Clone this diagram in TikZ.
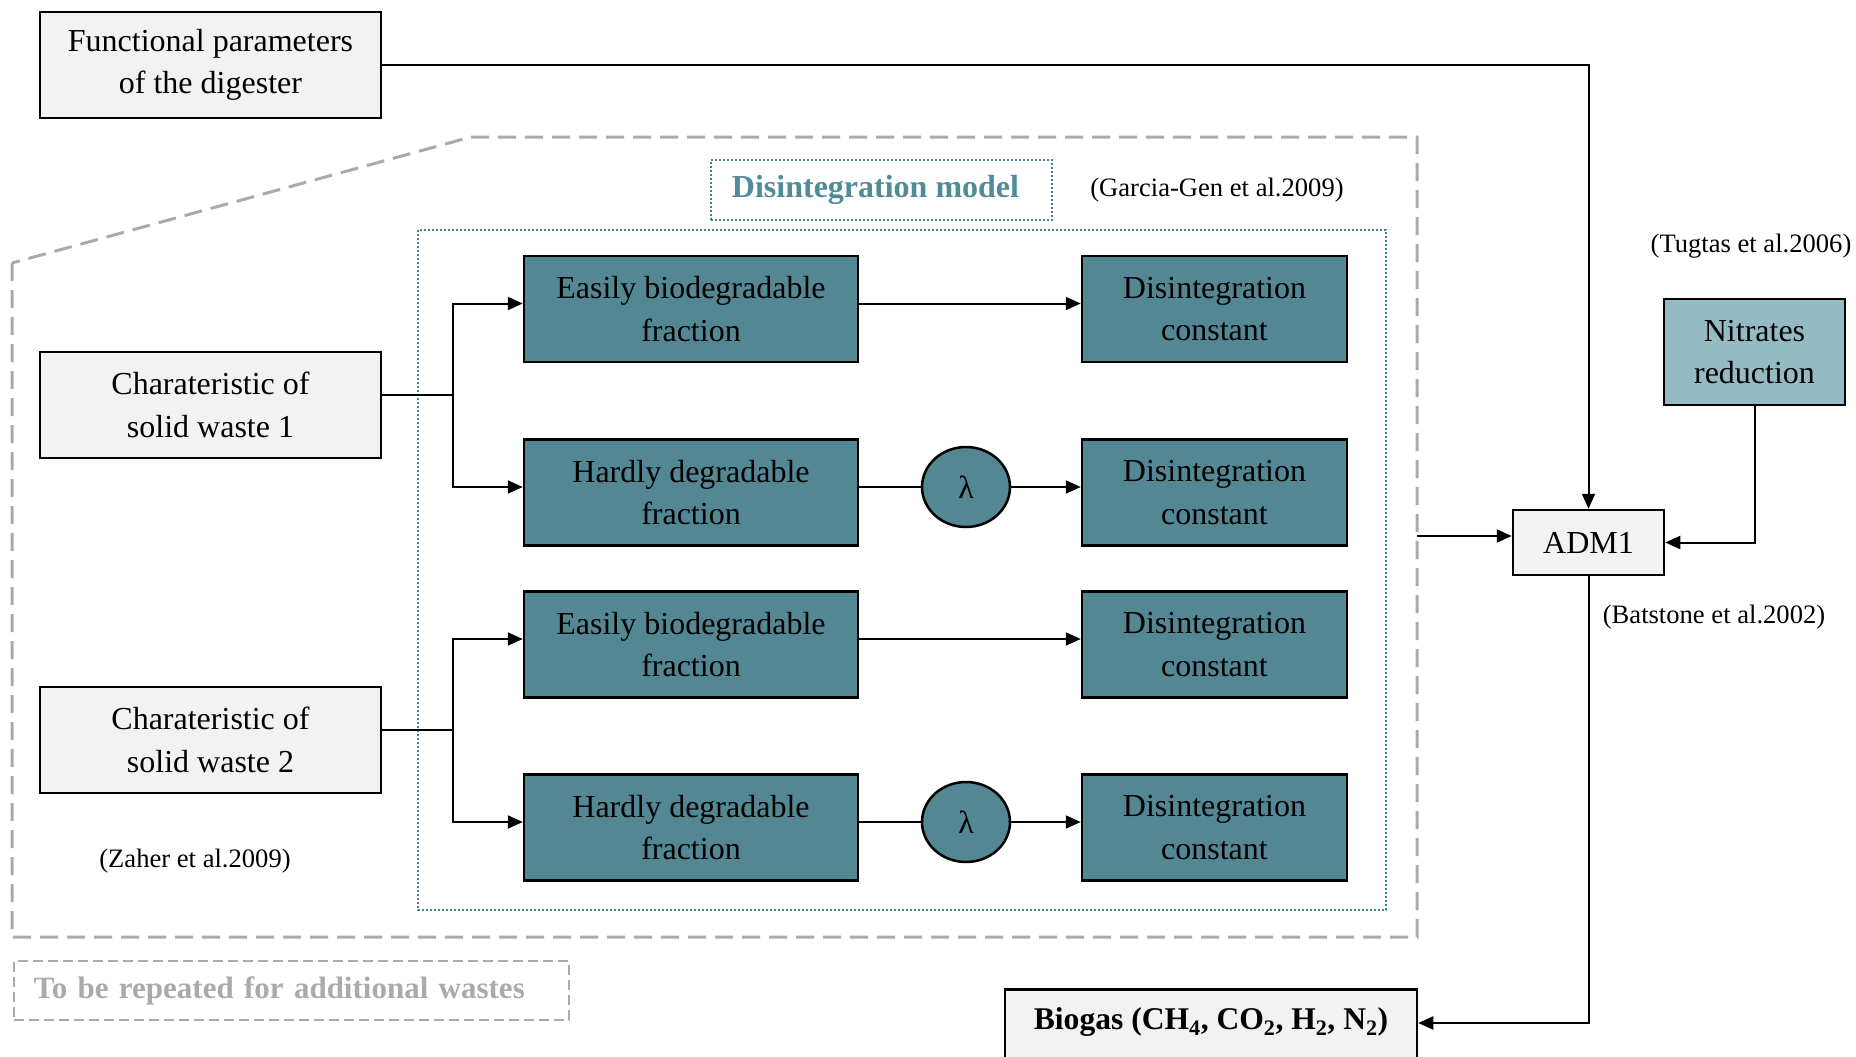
\documentclass[tikz,border=0pt]{standalone}
\usepackage{fontspec}
\setmainfont{Liberation Serif}
\usetikzlibrary{arrows.meta,shapes.geometric}
\definecolor{tealbox}{RGB}{83,135,147}
\definecolor{lightteal}{RGB}{148,187,196}
\definecolor{graybox}{RGB}{242,242,242}
\definecolor{dashgray}{RGB}{170,170,170}
\definecolor{dotteal}{RGB}{62,130,150}
\definecolor{titleteal}{RGB}{79,139,153}
\tikzset{
  base/.style={draw=black, line width=2.5pt, align=center, inner sep=0pt,
    font=\fontsize{32}{42.5}\selectfont},
  grayb/.style={base, fill=graybox},
  tealb/.style={base, fill=tealbox, minimum height=106pt},
  fracb/.style={tealb, minimum width=334pt},
  constb/.style={tealb, minimum width=265pt},
  lam/.style={base, fill=tealbox, ellipse, minimum width=88pt, minimum height=80pt},
  conn/.style={line width=2pt, draw=black},
  arr/.style={conn, -{Triangle[length=15pt,width=13pt]}},
  cite/.style={font=\fontsize{26.6}{30}\selectfont, inner sep=0pt}
}
\begin{document}
\begin{tikzpicture}[x=1pt,y=-1pt]
\useasboundingbox (0,0) rectangle (1856,1057);
% outer dashed frame
\draw[dashgray, line width=3pt, dash pattern=on 18pt off 9pt]
  (12,263) -- (12,937) -- (1417,937) -- (1417,137) -- (471,137) -- cycle;
% inner dotted frame
\draw[dotteal, line width=2pt, dash pattern=on 2pt off 2pt] (418,230) rectangle (1386,910);
% title
\node[draw=dotteal, line width=2pt, dash pattern=on 2pt off 2pt, minimum width=341pt, minimum height=60pt,
  text=titleteal, font=\fontsize{32}{36}\selectfont\bfseries] (title) at (881.5,190) {Disintegration model\hspace*{12pt}};
\node[cite] (cgarcia) at (1217,190) {(Garcia-Gen et al.2009)};

% left gray boxes
\node[grayb, minimum width=341pt, minimum height=106pt] (func) at (210.5,65) {Functional parameters\\of the digester};
\node[grayb, minimum width=341pt, minimum height=106pt] (char1) at (210.5,405) {Charateristic of\\solid waste 1};
\node[grayb, minimum width=341pt, minimum height=106pt] (char2) at (210.5,740) {Charateristic of\\solid waste 2};
\node[cite] (czaher) at (195,861) {(Zaher et al.2009)};

% teal boxes
\node[fracb] (easy1) at (691,309) {Easily biodegradable\\fraction};
\node[fracb] (hard1) at (691,492.5) {Hardly degradable\\fraction};
\node[fracb] (easy2) at (691,644.5) {Easily biodegradable\\fraction};
\node[fracb] (hard2) at (691,827.5) {Hardly degradable\\fraction};
\node[constb] (dis1) at (1214.5,309) {Disintegration\\constant};
\node[constb] (dis2) at (1214.5,492.5) {Disintegration\\constant};
\node[constb] (dis3) at (1214.5,644.5) {Disintegration\\constant};
\node[constb] (dis4) at (1214.5,827.5) {Disintegration\\constant};
\node[lam] (lam1) at (966,487) {λ};
\node[lam] (lam2) at (966,822) {λ};

% right side
\node[grayb, minimum width=151pt, minimum height=65pt] (adm) at (1588.5,542.5) {ADM1};
\node[base, fill=lightteal, minimum width=181pt, minimum height=106pt] (nitr) at (1754.5,352) {Nitrates\\reduction};
\node[cite] (ctugtas) at (1751,246) {(Tugtas et al.2006)};
\node[cite] (cbatstone) at (1714,617) {(Batstone et al.2002)};
\node[grayb, anchor=north, minimum width=412pt, text height=32pt, text depth=60pt, inner ysep=8pt,
  font=\fontsize{31.6}{36}\selectfont\bfseries] (biogas) at (1211,988)
  {Biogas (CH\textsubscript{4}, CO\textsubscript{2}, H\textsubscript{2}, N\textsubscript{2})};

% repeated note
\node[draw=dashgray, line width=2pt, dash pattern=on 10pt off 5pt, anchor=west, minimum height=59pt,
  text width=515pt, align=left, inner xsep=20pt, inner ysep=0pt,
  text=dashgray, font=\fontsize{31}{36}\selectfont\bfseries] (rep) at (13,990.5)
  {To be repeated for additional wastes};

% connectors
\coordinate (j1) at (453,395);
\coordinate (j2) at (453,730);
\draw[conn] (char1.east |- j1) -- (j1);
\draw[arr] (j1) |- ([yshift=5.5pt]easy1.west);
\draw[arr] (j1) |- (hard1.west |- lam1);
\draw[conn] (char2.east |- j2) -- (j2);
\draw[arr] (j2) |- ([yshift=5.5pt]easy2.west);
\draw[arr] (j2) |- (hard2.west |- lam2);
\draw[arr] ([yshift=5.5pt]easy1.east) -- ([yshift=5.5pt]dis1.west);
\draw[arr] ([yshift=5.5pt]easy2.east) -- ([yshift=5.5pt]dis3.west);
\draw[conn] (hard1.east |- lam1) -- (lam1);
\draw[arr] (lam1) -- (lam1 -| dis2.west);
\draw[conn] (hard2.east |- lam2) -- (lam2);
\draw[arr] (lam2) -- (lam2 -| dis4.west);
\draw[arr] (func.east) -| (adm.north);
\coordinate (outR) at (1417,536);
\draw[arr] (outR) -- (outR -| adm.west);
\draw[arr] (nitr.south) |- (adm.east);
\draw[arr] (adm.south) |- ([yshift=-35pt]biogas.north east);
\end{tikzpicture}
\end{document}
